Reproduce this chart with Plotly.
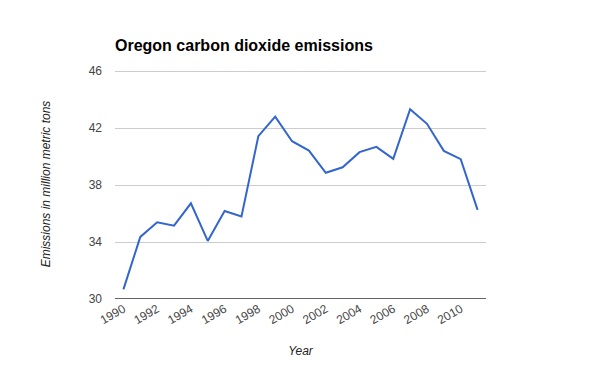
import plotly.graph_objects as go

years = list(range(1990, 2012))
emissions = [30.68, 34.36, 35.39, 35.15, 36.72, 34.08, 36.18, 35.79, 41.43, 42.81,
             41.08, 40.42, 38.86, 39.25, 40.31, 40.68, 39.84, 43.33, 42.30, 40.40,
             39.82, 36.26]
x_ticks = list(range(1990, 2011, 2))
y_ticks = [30, 34, 38, 42, 46]

fig = go.Figure()
fig.add_trace(go.Scatter(x=years, y=emissions, mode="lines",
                         line=dict(color="#3366cc", width=2), hoverinfo="x+y"))

fig.update_layout(
    width=600, height=371,
    margin=dict(l=115, r=114, t=69, b=72),
    paper_bgcolor="white", plot_bgcolor="white",
    font=dict(family="Liberation Sans, Arial, sans-serif", size=12, color="#444"),
    title=dict(text="<b>Oregon carbon dioxide emissions</b>", x=115/600, xanchor="left",
               y=1 - 45/371, yanchor="middle",
               font=dict(size=16, color="#000")),
    showlegend=False,
    xaxis=dict(range=[1989.5, 2011.5], tickvals=x_ticks, ticktext=[str(v) for v in x_ticks],
               tickangle=-30, showgrid=False, zeroline=False, showline=False,
               ticks="", automargin=False, tickfont=dict(size=12, color="#444"),
               title=dict(text="<i>Year</i>", font=dict(size=12, color="#222"), standoff=20)),
    yaxis=dict(range=[30, 46.15], tickvals=y_ticks, showgrid=True, gridcolor="#cccccc",
               zeroline=False, showline=False, ticks="", ticklabelstandoff=12,
               automargin=False,
               tickfont=dict(size=12, color="#444"),
               title=dict(text="<i>Emissions in million metric tons</i>",
                          font=dict(size=12, color="#222"), standoff=35)),
)
fig.add_shape(type="line", xref="paper", yref="y", x0=0, x1=1, y0=30, y1=30,
              line=dict(color="#333333", width=1.5))

fig.write_html("out.html", config={"displayModeBar": False},
               post_script="document.body.style.margin='0';document.body.style.padding='0';")
